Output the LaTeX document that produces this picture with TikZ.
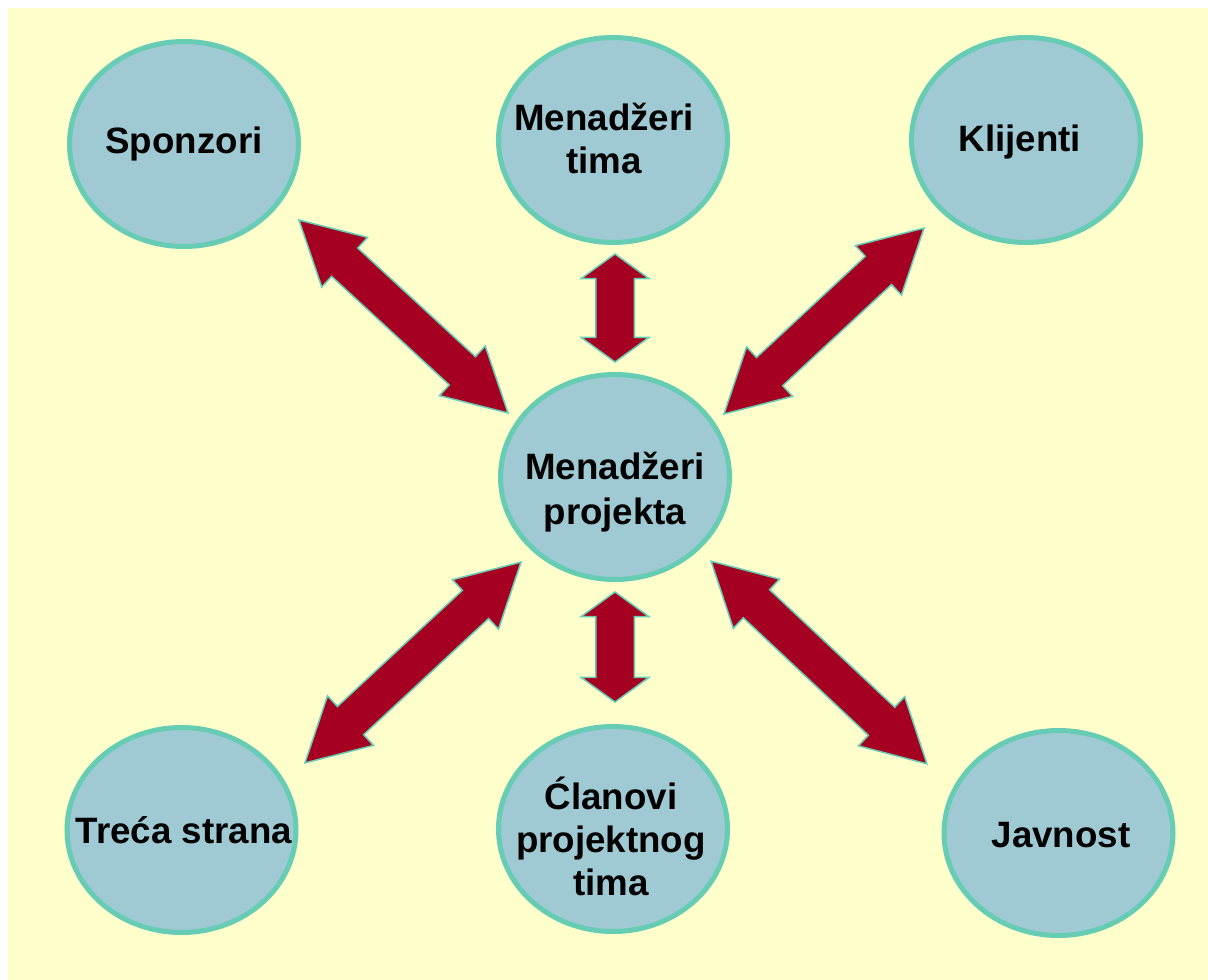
\documentclass[tikz,border=0pt]{standalone}
\usepackage{fontspec}
\setmainfont{Liberation Sans}
\usetikzlibrary{shapes.geometric,shapes.arrows}
\definecolor{bgyellow}{RGB}{255,255,204}
\definecolor{ellfill}{RGB}{159,201,211}
\definecolor{ellline}{RGB}{102,204,180}
\definecolor{arrred}{RGB}{165,0,33}
\begin{document}
\begin{tikzpicture}[x=1pt,y=-1pt,
  ell/.style={ellipse, draw=ellline, line width=5pt, fill=ellfill,
    minimum width=229pt, minimum height=205pt, inner sep=0pt},
  txt/.style={font=\fontsize{36.7}{43}\selectfont\bfseries, align=center, text=black, inner sep=0pt},
  dblarr/.style={double arrow, draw=ellline, line width=1.5pt, fill=arrred,
    inner xsep=0pt, inner ysep=18.5pt, minimum width=66pt, double arrow head extend=14.5pt,
    double arrow tip angle=57},
  vdbl/.style={dblarr, double arrow tip angle=108}]
\useasboundingbox (0,0) rectangle (1208,980);
\fill[white] (0,0) rectangle (1208,980);
\fill[bgyellow] (8,8) rectangle (1208,980);

% ellipses
\node[ell, label={[txt]center:Sponzori}] (spon) at (184,144) {};
\node[ell, label={[txt,xshift=-9pt,yshift=2pt]center:{Menadžeri\\tima}}] (mtim) at (613,140) {};
\node[ell, label={[txt,xshift=-6pt,yshift=-2pt]center:Klijenti}] (klij) at (1026,140) {};
\node[ell, label={[txt,yshift=-15pt,font=\fontsize{36.7}{45}\selectfont\bfseries]center:{Menadžeri\\projekta}}] (cent) at (615,477) {};
\node[ell, label={[txt,xshift=2.5pt]center:Treća strana}] (trec) at (181.5,830) {};
\node[ell, label={[txt,xshift=-2pt,yshift=-7pt]center:{Ćlanovi\\projektnog\\tima}}] (clan) at (613,829) {};
\node[ell, label={[txt,xshift=2.5pt,yshift=-2pt]center:Javnost}] (javn) at (1058.5,833) {};

% double block arrows
\node[dblarr, minimum height=284.5pt, rotate=-42.7] (a-spon) at (403.5,316.5) {};
\node[dblarr, minimum height=273pt, rotate=42.9] (a-klij) at (824,321) {};
\node[dblarr, minimum height=295pt, rotate=42.9] (a-trec) at (413,662.5) {};
\node[dblarr, minimum height=296pt, rotate=-43.2] (a-javn) at (819,662.5) {};
\node[vdbl, minimum height=108pt, rotate=90] (a-mtim) at (615,308) {};
\node[vdbl, minimum height=110pt, rotate=90] (a-clan) at (615,647) {};
\end{tikzpicture}
\end{document}
